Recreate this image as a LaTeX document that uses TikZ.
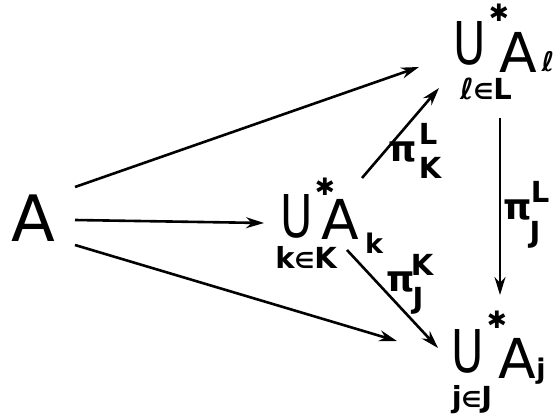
\documentclass[tikz,border=0pt]{standalone}
\usepackage{fontspec}
\usepackage{graphicx}
\setmainfont{DejaVu Sans}
\usetikzlibrary{arrows.meta}
\newcommand{\smallin}{{\fontsize{22}{22}\selectfont ∈}}
\begin{document}
\begin{tikzpicture}[x=1pt,y=-1pt,
  glyph/.style={inner sep=0pt, anchor=center},
  bigA/.style={glyph, font=\fontsize{64}{64}\selectfont},
  cup/.style={glyph, font=\fontsize{59}{59}\selectfont},
  fam/.style={glyph, font=\fontsize{55}{55}\selectfont},
  star/.style={glyph, font=\fontsize{24}{24}\selectfont},
  idx/.style={glyph, font=\bfseries\fontsize{29}{29}\selectfont},
  sub/.style={glyph, font=\bfseries\fontsize{27}{27}\selectfont},
  proj/.style={glyph, font=\bfseries\fontsize{36}{36}\selectfont},
  pidx/.style={glyph, font=\bfseries\fontsize{29}{29}\selectfont},
  map/.style={line width=2.6pt, -{Stealth[length=18pt,width=11pt]}}
]
\useasboundingbox (0,0) rectangle (553,418);

% source
\node[bigA] (A) at (33,218) {A};

% union over L (top right)
\node[cup]  (UL)  at (470,43) {\scalebox{0.75}[1]{U}};
\node[star] (SL)  at (499,13) {✱};
\node[fam]  (AL)  at (518,52) {A};
\node[sub]  (al)  at (548,62) {ℓ};
\node[idx]  (iL)  at (486,89) {ℓ\smallin L};

% union over K (middle)
\node[cup]  (UK)  at (297,216) {\scalebox{0.75}[1]{U}};
\node[star] (SK)  at (325,187) {✱};
\node[fam]  (AK)  at (340,219) {A};
\node[sub]  (ak)  at (374,243) {k};
\node[idx]  (iK)  at (306,257) {k\smallin K};

% union over J (bottom right)
\node[cup]  (UJ)  at (468,351) {\scalebox{0.75}[1]{U}};
\node[star] (SJ)  at (497,320) {✱};
\node[fam]  (AJ)  at (517,358) {A};
\node[sub]  (aj)  at (541,371) {j};
\node[idx]  (iJ)  at (472,400) {j\smallin J};

% endpoints of the maps
\coordinate (a1) at (75,187);  \coordinate (t1) at (419,67);
\coordinate (a2) at (75,220);  \coordinate (t2) at (264,223);
\coordinate (a3) at (75,245);  \coordinate (t3) at (397,341);
\coordinate (k1) at (362,178); \coordinate (t4) at (439,88);
\coordinate (k2) at (347,250); \coordinate (t5) at (438,348);
\coordinate (l1) at (500,118); \coordinate (t6) at (500,295);

\draw[map] (a1) -- (t1);
\draw[map] (a2) -- (t2);
\draw[map] (a3) -- (t3);
\draw[map] (k1) -- (t4);
\draw[map] (k2) -- (t5);
\draw[map] (l1) -- (t6);

% projection labels
\node[proj] (pKL) at (403,152) {π};
\node[pidx] (pKLs) at (428,134) {L};
\node[pidx] (pKLb) at (430,168) {K};

\node[proj] (pJK) at (401,282) {π};
\node[pidx] (pJKs) at (422,265) {K};
\node[pidx] (pJKb) at (418,301) {J};

\node[proj] (pJL) at (518,210) {π};
\node[pidx] (pJLs) at (540,192) {L};
\node[pidx] (pJLb) at (535,235) {J};
\end{tikzpicture}
\end{document}
